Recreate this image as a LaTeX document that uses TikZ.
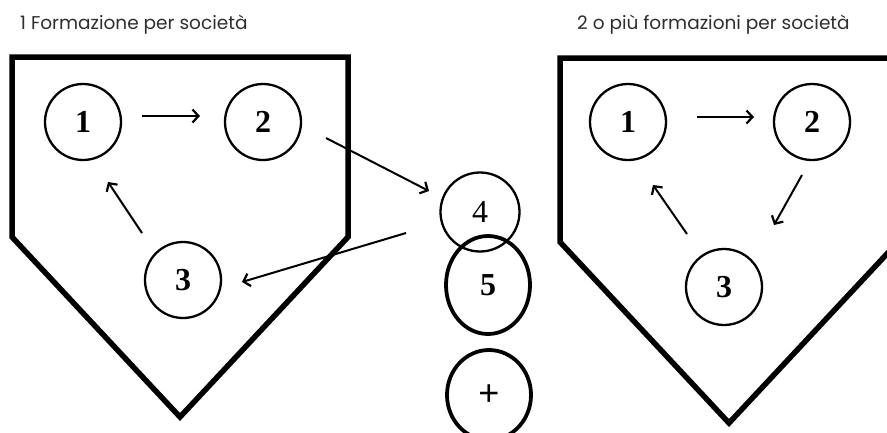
\documentclass[tikz,border=0pt]{standalone}
\usepackage{fontspec}
\setmainfont{Liberation Serif}
\newfontfamily\titlefont{Poppins}
\newfontfamily\plusfont{Liberation Sans}
\usetikzlibrary{arrows.meta,shapes.geometric}
\definecolor{titlegray}{HTML}{2E2E2E}
\tikzset{
  plate/.style={line width=5.5pt, line join=miter},
  ball/.style={draw, circle, line width=2.3pt, minimum size=76pt, inner sep=0pt,
    font=\fontsize{32}{32}\selectfont\bfseries},
  bigball/.style={draw, ellipse, line width=3.8pt, inner sep=0pt,
    font=\fontsize{32}{32}\selectfont\bfseries},
  flow/.style={line width=2pt, -{Straight Barb[length=6pt,width=13pt,line width=2.2pt]}},
  title/.style={anchor=west, inner sep=0pt, text=titlegray,
    font=\titlefont\fontsize{18.5}{18.5}\selectfont}
}
\begin{document}
\begin{tikzpicture}[x=1pt,y=-1pt]
\useasboundingbox (0,0) rectangle (887,432);
\clip (0,0) rectangle (887,432);
% titles
\node[title] (t1) at (20,25) {1 Formazione per società};
\node[title] (t2) at (577,25) {2 o più formazioni per società};
% plates
\draw[plate] (12,57) -- (348,57) -- (348,237) -- (180,417) -- (12,237) -- cycle;
\draw[plate] (560,58) -- (898,58) -- (898,242) -- (729,423) -- (560,242) -- cycle;
% left nodes
\node[ball] (a1) at (83,122) {1};
\node[ball] (a2) at (263,122) {2};
\node[ball] (a3) at (183,280) {3};
% middle nodes
\node[ball, minimum size=79pt, font=\fontsize{32}{32}\selectfont] (m4) at (480,212) {4};
\node[bigball, minimum width=84pt, minimum height=98pt] (m5) at (488,285) {5};
\node[bigball, minimum width=84pt, minimum height=90pt,
  font=\plusfont\fontsize{36}{36}\selectfont] (mp) at (489,395) {+};
% right nodes
\node[ball] (b1) at (628,122) {1};
\node[ball] (b2) at (812,122) {2};
\node[ball] (b3) at (724,287) {3};
% arrow end points
\coordinate (a12s) at (142,116); \coordinate (a12e) at (200,116);
\coordinate (a31s) at (142,233); \coordinate (a31e) at (108,182);
\coordinate (a24s) at (326,138); \coordinate (a24e) at (429,191);
\coordinate (a43s) at (406,233); \coordinate (a43e) at (242,282);
\coordinate (b12s) at (697,117); \coordinate (b12e) at (754,117);
\coordinate (b23s) at (802,175); \coordinate (b23e) at (774,225);
\coordinate (b31s) at (687,234); \coordinate (b31e) at (653,185);
% arrows
\draw[flow] (a12s) -- (a12e);
\draw[flow] (a31s) -- (a31e);
\draw[flow] (a24s) -- (a24e);
\draw[flow] (a43s) -- (a43e);
\draw[flow] (b12s) -- (b12e);
\draw[flow] (b23s) -- (b23e);
\draw[flow] (b31s) -- (b31e);
\end{tikzpicture}
\end{document}
